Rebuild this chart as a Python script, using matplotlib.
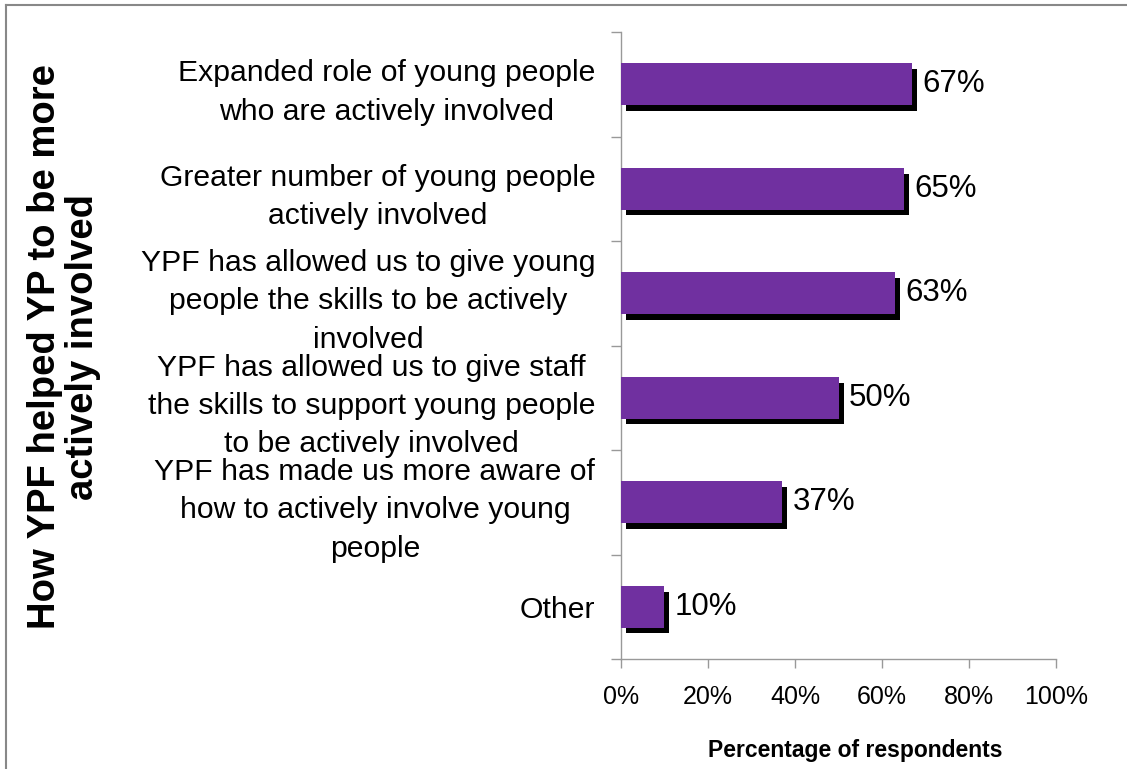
import numpy as np
import matplotlib
matplotlib.use('Agg')
import matplotlib.pyplot as plt
import matplotlib.patheffects as pe
from matplotlib.lines import Line2D
from matplotlib.ticker import PercentFormatter, FixedLocator

CATEGORIES = [
    'Expanded role of young people\nwho are actively involved',
    'Greater number of young people\nactively involved',
    'YPF has allowed us to give young\npeople the skills to be actively\ninvolved',
    'YPF has allowed us to give staff\nthe skills to support young people\nto be actively involved',
    'YPF has made us more aware of\nhow to actively involve young\npeople',
    'Other',
]
PERCENTAGES = [67, 65, 63, 50, 37, 10]
X_TICKS = [0, 20, 40, 60, 80, 100]

BAR_COLOR = '#7030A0'
AXIS_COLOR = '#999999'

plt.rcParams['font.family'] = ['Liberation Sans', 'DejaVu Sans']

W, H = 1127, 769
fig = plt.figure(figsize=(W / 100, H / 100), dpi=100)
ax = fig.add_axes([621 / W, 110 / H, 435 / W, 627 / H])

# first category at the top
y = np.arange(len(CATEGORIES))[::-1]
bars = ax.barh(y, PERCENTAGES, height=0.4, color=BAR_COLOR, zorder=3)
for b in bars:
    b.set_path_effects([pe.SimplePatchShadow(offset=(3.6, -4.2), shadow_rgbFace='black', alpha=1.0),
                        pe.Normal()])

for yi, v in zip(y, PERCENTAGES):
    ax.annotate('%d%%' % v, xy=(v, yi), xytext=(7.5, 0), textcoords='offset points',
                ha='left', va='center', fontsize=22.5)

ax.set_xlim(0, 100)
ax.set_ylim(-0.5, len(CATEGORIES) - 0.5)

ax.set_xticks(X_TICKS)
ax.xaxis.set_major_formatter(PercentFormatter(decimals=0))
ax.tick_params(axis='x', direction='out', length=6.5, width=1, color=AXIS_COLOR,
               labelsize=18, pad=12)

ax.set_yticks(y)
ax.set_yticklabels(CATEGORIES, fontsize=21.7, linespacing=1.47, multialignment='center')
ax.tick_params(axis='y', which='major', length=0, pad=18.5)
ax.yaxis.set_minor_locator(FixedLocator(np.arange(-0.5, len(CATEGORIES), 1.0)))
ax.tick_params(axis='y', which='minor', direction='out', length=7, width=1, color=AXIS_COLOR)

for s in ['top', 'right']:
    ax.spines[s].set_visible(False)
for s in ['left', 'bottom']:
    ax.spines[s].set_color(AXIS_COLOR)
    ax.spines[s].set_linewidth(1)

ax.set_xlabel('Percentage of respondents', fontsize=16.5, fontweight='bold')
ax.xaxis.set_label_coords(0.538, -0.128)

fig.text(64 / W, 1 - 347 / H, 'How YPF helped YP to be more\nactively involved',
         rotation=90, ha='center', va='center', multialignment='center',
         fontsize=27.5, fontweight='bold', linespacing=1.05)

# outer frame around the chart
fig.add_artist(Line2D([5.5 / W, 5.5 / W], [0, 1 - 4.5 / H], transform=fig.transFigure,
                      color='#888888', lw=1.5))
fig.add_artist(Line2D([5.5 / W, 1], [1 - 4.5 / H, 1 - 4.5 / H], transform=fig.transFigure,
                      color='#888888', lw=1.5))

fig.savefig('out.png', dpi=100)
